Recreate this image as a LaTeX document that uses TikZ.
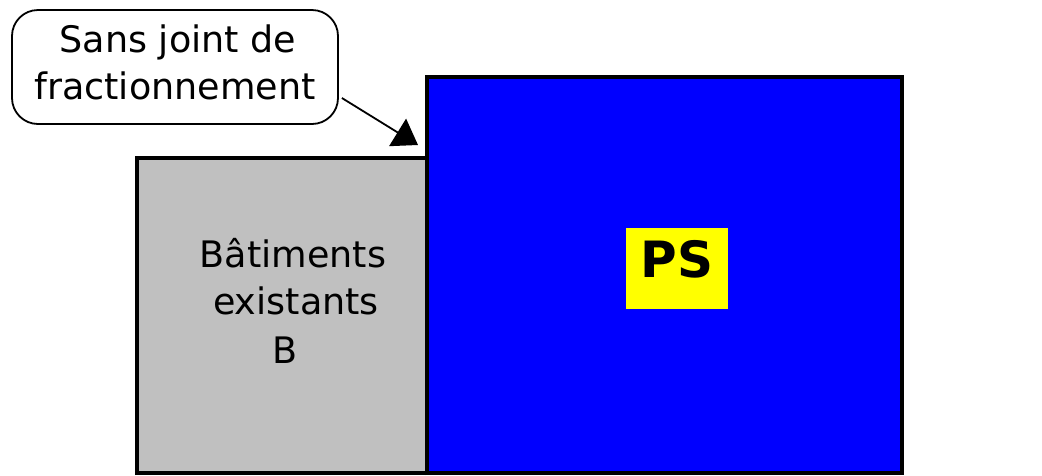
\documentclass[tikz,border=0pt]{standalone}
\usepackage{fontspec}
\setmainfont{DejaVu Sans}
\usetikzlibrary{arrows.meta}
\definecolor{psblue}{RGB}{0,0,255}
\definecolor{bgray}{RGB}{192,192,192}
\definecolor{psyellow}{RGB}{255,255,0}
\tikzset{
  building/.style={draw=black, line width=4pt},
  label/.style={inner sep=0pt, font=\fontsize{36.5}{44}\selectfont},
  callout/.style={draw=black, line width=1.8pt, rounded corners=26pt, fill=white},
  pointer/.style={line width=1.8pt, -{Triangle[length=24pt,width=32pt]}},
}
\begin{document}
\begin{tikzpicture}[x=1pt,y=-1pt]
  \useasboundingbox (0,0) rectangle (1042,475);
  % existing buildings and the new block
  \path[building, fill=bgray] (137,475) -- (137,158) -- (427,158) -- (427,475);
  \path[building, fill=psblue] (427,475) -- (427,77) -- (902,77) -- (902,475);
  \draw[line width=4pt] (135,473) -- (904,473);
  \coordinate (corner) at (418,145);
  % labels inside the buildings
  \node[label, anchor=base] (t1) at (293,267) {Bâtiments};
  \node[label, anchor=base] (t2) at (296,314) {existants};
  \node[label, anchor=base] (t3) at (285,363) {B};
  \node[fill=psyellow, minimum width=102pt, minimum height=81pt, inner sep=0pt] (ps) at (677,268) {};
  \node[font=\fontsize{50}{60}\selectfont\bfseries, inner sep=0pt] (pst) at (677,259) {PS};
  % callout frame and its two lines of text
  \node[callout, minimum width=326pt, minimum height=114pt] (note) at (175,67) {};
  \node[label, anchor=base] (n1) at (178,52) {Sans joint de};
  \node[label, anchor=base] (n2) at (175,99) {fractionnement};
  \draw[pointer] (note.east |- 0,98) ++(3,0) coordinate (ps0) -- (corner);
\end{tikzpicture}
\end{document}
